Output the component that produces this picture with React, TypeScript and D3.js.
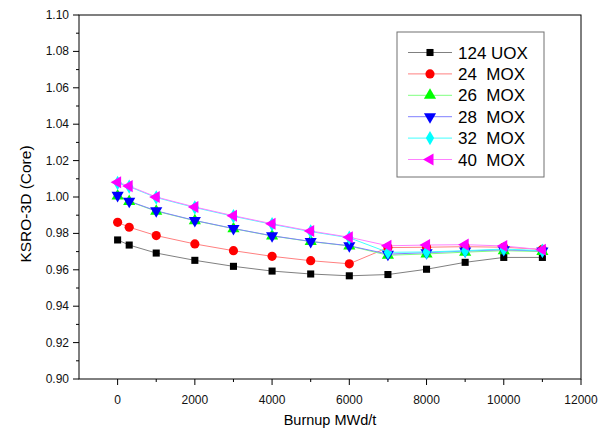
import React from 'react';
import * as d3 from 'd3';

const burnup = [0, 300, 1000, 2000, 3000, 4000, 5000, 6000, 7000, 8000, 9000, 10000, 11000];

const uox124 = [0.9764, 0.9736, 0.9692, 0.9652, 0.9619, 0.9593, 0.9577, 0.9567, 0.9574, 0.9603, 0.9641, 0.9668, 0.9668];
const mox24 = [0.9861, 0.9834, 0.9788, 0.9742, 0.9705, 0.9674, 0.965, 0.9633, 0.9722, 0.9724, 0.9727, 0.9724, 0.9712];
const mox26 = [1.0006, 0.9975, 0.9922, 0.987, 0.9826, 0.9786, 0.9755, 0.9731, 0.968, 0.9687, 0.9697, 0.9705, 0.97];
const mox28 = [1.0009, 0.9977, 0.9924, 0.9871, 0.9827, 0.9787, 0.9756, 0.9732, 0.9686, 0.9694, 0.9703, 0.971, 0.9703];
const mox32 = [1.0077, 1.0057, 0.9997, 0.9942, 0.9894, 0.985, 0.981, 0.9776, 0.9696, 0.9698, 0.9705, 0.9714, 0.9705];
const mox40 = [1.0081, 1.006, 1.0, 0.9945, 0.9897, 0.9853, 0.9813, 0.9779, 0.9732, 0.9736, 0.9738, 0.9731, 0.971];

const xTicks = [0, 2000, 4000, 6000, 8000, 10000, 12000];
const yTicks = [0.9, 0.92, 0.94, 0.96, 0.98, 1.0, 1.02, 1.04, 1.06, 1.08, 1.1];

// symbol type, rotation, fill, line colour
const series = [
  { name: '124 UOX', values: uox124, sym: d3.symbolSquare, size: 50, rot: 0, fill: '#000000', line: '#808080' },
  { name: '24  MOX', values: mox24, sym: d3.symbolCircle, size: 66, rot: 0, fill: '#ff0000', line: '#ff8080' },
  { name: '26  MOX', values: mox26, sym: d3.symbolTriangle, size: 64, rot: 0, fill: '#00ff00', line: '#80ff80' },
  { name: '28  MOX', values: mox28, sym: d3.symbolTriangle, size: 64, rot: 180, fill: '#0000ff', line: '#8080ff' },
  { name: '32  MOX', values: mox32, sym: d3.symbolDiamond, size: 60, rot: 0, fill: '#00ffff', line: '#40ffff' },
  { name: '40  MOX', values: mox40, sym: d3.symbolTriangle, size: 64, rot: -90, fill: '#ff00ff', line: '#ff80ff' },
];

const W = 603;
const H = 438;
const m = { left: 79, right: 581, top: 15, bottom: 379 };
const font = '"Liberation Sans", Arial, sans-serif';

export default function App() {
  const x = d3.scaleLinear().domain([-1000, 12000]).range([m.left, m.right]);
  const y = d3.scaleLinear().domain([0.9, 1.1]).range([m.bottom, m.top]);

  const line = d3.line<number>().x((_, i) => x(burnup[i])).y(d => y(d));

  const xMinor = d3.range(1000, 12000, 2000);
  const yMinor = d3.range(0, 10).map(i => 0.91 + i * 0.02);

  const legX = 397;
  const legY = 32;
  const legRow = 21.4;

  return (
    <svg width={W} height={H} style={{ position: 'absolute', left: 0, top: 0, background: '#fff' }} fontFamily={font}>
      <rect x={0} y={0} width={W} height={H} fill="#fff" />

      {series.map(s => (
        <path key={s.name + 'l'} d={line(s.values) || ''} fill="none" stroke={s.line} strokeWidth={1} />
      ))}
      {series.map(s => {
        const p = d3.symbol().type(s.sym).size(s.size)() || '';
        return (
          <g key={s.name + 'm'}>
            {s.values.map((v, i) => (
              <path key={i} d={p} fill={s.fill} transform={`translate(${x(burnup[i])},${y(v)}) rotate(${s.rot})`} />
            ))}
          </g>
        );
      })}

      {/* frame */}
      <rect x={m.left} y={m.top} width={m.right - m.left} height={m.bottom - m.top} fill="none" stroke="#000" strokeWidth={1} />

      {/* x axis */}
      {xTicks.map(t => (
        <g key={'xt' + t}>
          <line x1={x(t)} x2={x(t)} y1={m.bottom} y2={m.bottom + 6} stroke="#000" />
          <text x={x(t)} y={404} textAnchor="middle" fontSize={12} fill="#111">{t}</text>
        </g>
      ))}
      {xMinor.map(t => (
        <line key={'xm' + t} x1={x(t)} x2={x(t)} y1={m.bottom} y2={m.bottom + 3} stroke="#000" />
      ))}
      <text x={(m.left + m.right) / 2} y={425} textAnchor="middle" fontSize={14.5} fill="#000">Burnup MWd/t</text>

      {/* y axis */}
      {yTicks.map(t => (
        <g key={'yt' + t}>
          <line x1={m.left - 6} x2={m.left} y1={y(t)} y2={y(t)} stroke="#000" />
          <text x={69} y={y(t) + 4} textAnchor="end" fontSize={12} fill="#111">{t.toFixed(2)}</text>
        </g>
      ))}
      {yMinor.map(t => (
        <line key={'ym' + t} x1={m.left - 3} x2={m.left} y1={y(t)} y2={y(t)} stroke="#000" />
      ))}
      <text transform={`translate(31,204) rotate(-90)`} textAnchor="middle" fontSize={15.5} fill="#000">KSRO-3D (Core)</text>

      {/* legend */}
      <rect x={legX} y={legY} width={147} height={145} fill="#fff" stroke="#707070" strokeWidth={1} />
      {series.map((s, i) => {
        const cy = legY + 20.5 + i * legRow;
        const p = d3.symbol().type(s.sym).size(s.size)() || '';
        return (
          <g key={s.name + 'g'}>
            <line x1={408} x2={452} y1={cy} y2={cy} stroke={s.line} strokeWidth={1} />
            <path d={p} fill={s.fill} transform={`translate(430,${cy}) rotate(${s.rot})`} />
            <text x={458} y={cy + 6} fontSize={17} fill="#000" style={{ whiteSpace: 'pre' }}>{s.name}</text>
          </g>
        );
      })}
    </svg>
  );
}
